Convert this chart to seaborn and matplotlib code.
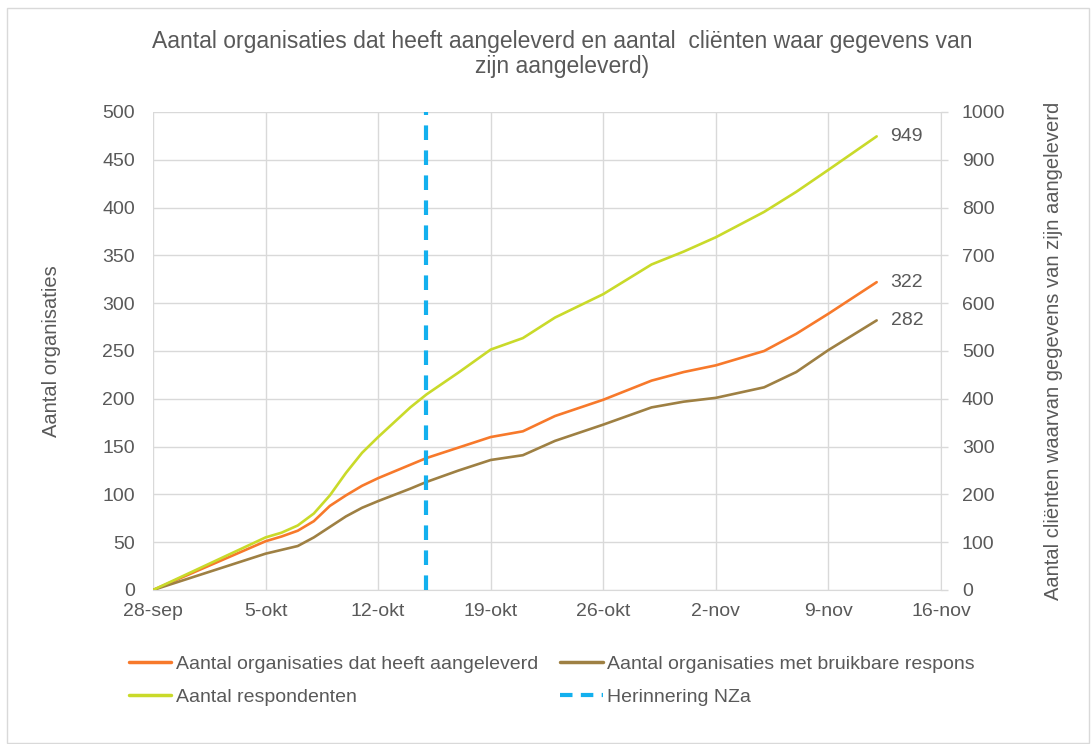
import pandas as pd
import numpy as np
import matplotlib
matplotlib.use("Agg")
import matplotlib.pyplot as plt
from matplotlib.lines import Line2D
from matplotlib.patches import Rectangle
import seaborn as sns

# data
dates = ["2015-09-28", "2015-10-05", "2015-10-06", "2015-10-07", "2015-10-08",
         "2015-10-09", "2015-10-10", "2015-10-11", "2015-10-12", "2015-10-14",
         "2015-10-15", "2015-10-17", "2015-10-19", "2015-10-21", "2015-10-23",
         "2015-10-26", "2015-10-29", "2015-10-31", "2015-11-02", "2015-11-05",
         "2015-11-07", "2015-11-09", "2015-11-12"]
org_delivered = [0, 51, 56, 62, 72, 88, 99, 109, 117, 131, 138, 149, 160, 166, 182,
                 199, 219, 228, 235, 250, 268, 289, 322]
org_usable = [0, 38, 42, 46, 55, 66, 77, 86, 93, 106, 113, 125, 136, 141, 156,
              173, 191, 197, 201, 212, 228, 251, 282]
respondents = [0, 110, 120, 135, 160, 198, 245, 287, 320, 382, 409, 455, 503, 527, 570,
               619, 681, 708, 738, 791, 833, 879, 949]

reminder_date = "2015-10-15"
tick_dates = ["2015-09-28", "2015-10-05", "2015-10-12", "2015-10-19", "2015-10-26",
              "2015-11-02", "2015-11-09", "2015-11-16"]
tick_labels = ["28-sep", "5-okt", "12-okt", "19-okt", "26-okt", "2-nov", "9-nov", "16-nov"]

title = ("Aantal organisaties dat heeft aangeleverd en aantal  cliënten waar gegevens van\n"
         "zijn aangeleverd)")
label_left = "Aantal organisaties"
label_right = "Aantal cliënten waarvan gegevens van zijn aangeleverd"
names = ["Aantal organisaties dat heeft aangeleverd",
         "Aantal organisaties met bruikbare respons",
         "Aantal respondenten",
         "Herinnering NZa"]

c_orange = "#F7792B"
c_brown = "#9E8043"
c_green = "#C9DA2A"
c_blue = "#13B0EE"
c_text = "#595959"
c_grid = "#D9D9D9"

sns.set_style("white")
plt.rcParams["font.family"] = ["Liberation Sans", "DejaVu Sans"]
plt.rcParams["font.size"] = 14

df = pd.DataFrame({"date": pd.to_datetime(dates),
                   "org": org_delivered,
                   "usable": org_usable,
                   "resp": respondents})

fig = plt.figure(figsize=(10.91, 7.44), dpi=100)
fig.patches.append(Rectangle((7 / 1091, 1 / 744), 1082 / 1091, 735 / 744,
                             transform=fig.transFigure, fill=False,
                             edgecolor=c_grid, linewidth=1))
ax = fig.add_axes([153 / 1091, 1 - 590 / 744, 788 / 1091, 478 / 744])
ax2 = ax.twinx()

sns.lineplot(data=df, x="date", y="org", ax=ax, color=c_orange, linewidth=1.9)
sns.lineplot(data=df, x="date", y="usable", ax=ax, color=c_brown, linewidth=1.9)
sns.lineplot(data=df, x="date", y="resp", ax=ax2, color=c_green, linewidth=1.9)
ax.axvline(pd.to_datetime(reminder_date), color=c_blue, linewidth=3,
           linestyle=(0, (3.5, 2.5)), zorder=5)

ticks = pd.to_datetime(tick_dates)
ax.set_xlim(ticks[0], ticks[-1])
ax.set_xticks(ticks)
ax.set_xticklabels(tick_labels)
ax.set_ylim(0, 500)
ax.set_yticks(np.arange(0, 501, 50))
ax2.set_ylim(0, 1000)
ax2.set_yticks(np.arange(0, 1001, 100))

ax.grid(True, color=c_grid, linewidth=1)
ax.set_axisbelow(True)
for a in (ax, ax2):
    for s in a.spines.values():
        s.set_visible(False)
ax.spines["bottom"].set_visible(True)
ax.spines["bottom"].set_color(c_grid)
ax2.spines["right"].set_visible(True)
ax2.spines["right"].set_color(c_grid)

ax.tick_params(axis="x", length=0, pad=9, labelcolor=c_text, labelsize=14)
ax.tick_params(axis="y", length=0, pad=13, labelcolor=c_text, labelsize=14)
ax2.tick_params(axis="y", length=5, width=1, color=c_grid, pad=10,
                labelcolor=c_text, labelsize=14)

ax.set_xlabel("")
ax.set_ylabel(label_left, color=c_text, fontsize=14.5, labelpad=30)
ax2.set_ylabel(label_right, color=c_text, fontsize=14.5, labelpad=28)

# end-of-line value labels
last = df.iloc[-1]
ax2.annotate(f"{last['resp']}", (last["date"], last["resp"]), xytext=(10, 0),
             textcoords="offset points", va="center", color=c_text, fontsize=14)
ax.annotate(f"{last['org']}", (last["date"], last["org"]), xytext=(10, 0),
            textcoords="offset points", va="center", color=c_text, fontsize=14)
ax.annotate(f"{last['usable']}", (last["date"], last["usable"]), xytext=(10, 0),
            textcoords="offset points", va="center", color=c_text, fontsize=14)

fig.text(562 / 1091, 1 - 54 / 744, title, ha="center", va="center",
         color=c_text, fontsize=16.5, linespacing=1.15)

handles = [Line2D([], [], color=c_orange, linewidth=2.5, label=names[0]),
           Line2D([], [], color=c_green, linewidth=2.5, label=names[2]),
           Line2D([], [], color=c_brown, linewidth=2.5, label=names[1]),
           Line2D([], [], color=c_blue, linewidth=3, linestyle=(0, (3, 2)), label=names[3])]
leg = fig.legend(handles=handles, ncol=2, loc="upper left",
                 bbox_to_anchor=(111 / 1091, 1 - 638 / 744), frameon=False,
                 fontsize=14, handlelength=2.2, handletextpad=0.25,
                 columnspacing=1.1, labelspacing=0.8)
for t in leg.get_texts():
    t.set_color(c_text)

fig.savefig("out.png", dpi=100)
